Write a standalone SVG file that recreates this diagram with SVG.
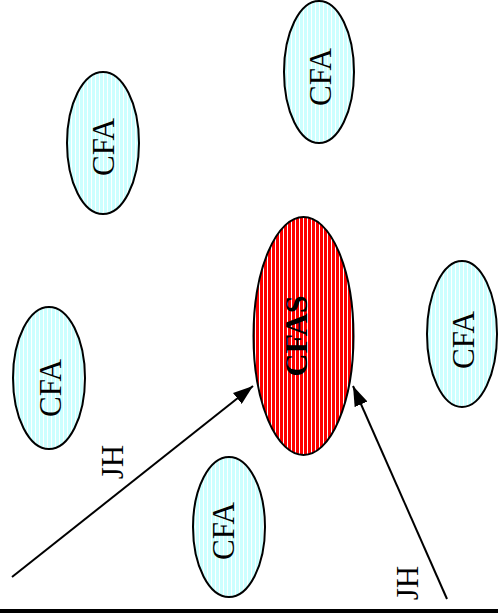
<svg xmlns="http://www.w3.org/2000/svg" width="498" height="613" viewBox="0 0 498 613">
<style>
.cfa{fill:url(#cyanStripes);stroke:#000;stroke-width:2}
.cfas{fill:url(#redStripes);stroke:#000;stroke-width:2}
.lbl{font-family:"Liberation Serif","Times New Roman",serif;font-size:31px;fill:#000;text-anchor:middle}
.bold{font-weight:bold;font-size:32px}
.conn{stroke:#000;stroke-width:2;fill:none;marker-end:url(#arrow)}
</style>
<defs>
<pattern id="cyanStripes" patternUnits="userSpaceOnUse" width="4" height="4">
<rect width="4" height="4" fill="#ccffff"/>
<rect x="3" width="1" height="4" fill="#ffffff"/>
</pattern>
<pattern id="redStripes" patternUnits="userSpaceOnUse" width="4" height="4">
<rect width="4" height="4" fill="#ff0000"/>
<rect x="3" width="1" height="4" fill="#ffffff"/>
</pattern>
<marker id="arrow" viewBox="0 0 20 14" refX="20" refY="7" markerWidth="20" markerHeight="14" markerUnits="userSpaceOnUse" orient="auto">
<path d="M0,0 L20,7 L0,14 Z" fill="#000"/>
</marker>
</defs>
<rect width="498" height="613" fill="#fff"/>
<g id="cfa-topleft">
<ellipse class="cfa" cx="103" cy="143" rx="36" ry="71"/>
<text class="lbl" transform="translate(114,147) rotate(-90)">CFA</text>
</g>
<g id="cfa-topright">
<ellipse class="cfa" cx="319" cy="72" rx="35" ry="71"/>
<text class="lbl" transform="translate(331,77) rotate(-90)">CFA</text>
</g>
<g id="cfa-left">
<ellipse class="cfa" cx="49" cy="378" rx="36" ry="71"/>
<text class="lbl" transform="translate(61,388) rotate(-90)">CFA</text>
</g>
<g id="cfa-bottom">
<ellipse class="cfa" cx="229" cy="527" rx="36" ry="70"/>
<text class="lbl" transform="translate(234,531) rotate(-90)">CFA</text>
</g>
<g id="cfa-right">
<ellipse class="cfa" cx="462" cy="334" rx="35" ry="73"/>
<text class="lbl" transform="translate(474,340) rotate(-90)">CFA</text>
</g>
<g id="cfas">
<ellipse class="cfas" cx="303.5" cy="336" rx="50" ry="119"/>
<text class="lbl bold" transform="translate(307,336) rotate(-90)">CFAS</text>
</g>
<g id="connectors">
<line class="conn" x1="12" y1="577" x2="253" y2="386"/>
<line class="conn" x1="447" y1="599" x2="353" y2="386"/>
<text class="lbl" transform="translate(123,462) rotate(-90)">JH</text>
<text class="lbl" transform="translate(418,583) rotate(-90)">JH</text>
</g>
<rect x="0" y="609" width="498" height="4" fill="#000"/>
</svg>
